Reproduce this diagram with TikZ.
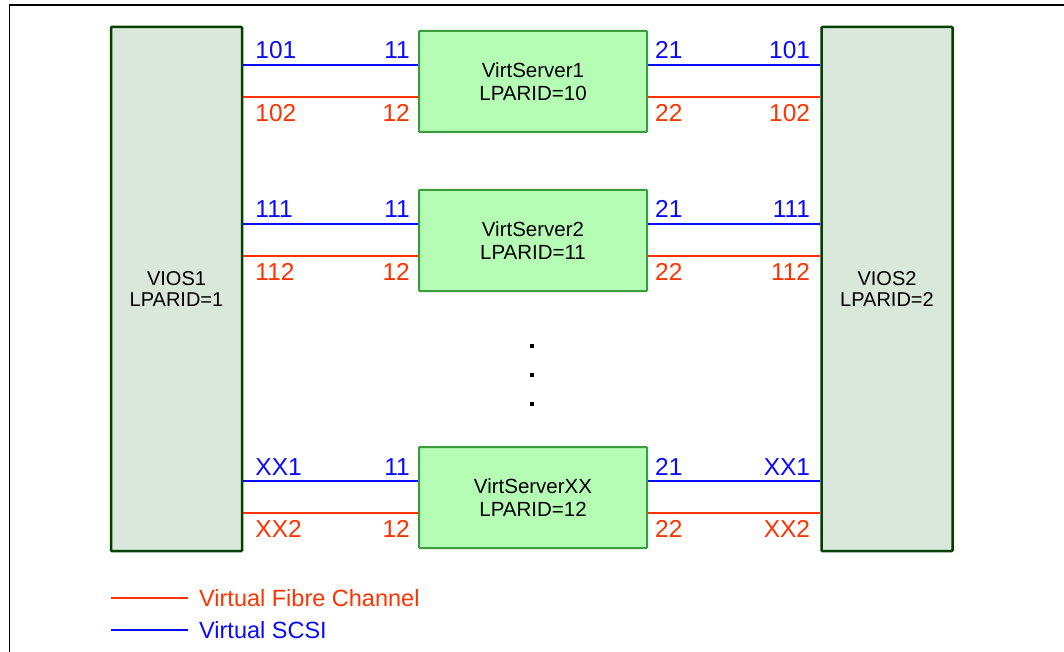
\documentclass[tikz,border=0pt]{standalone}
\usepackage{fontspec}
\setmainfont{Liberation Sans}
\usetikzlibrary{calc}
\definecolor{scsiblue}{RGB}{10,10,255}
\definecolor{fcred}{RGB}{255,51,0}
\definecolor{viosfill}{RGB}{217,232,218}
\definecolor{viosedge}{RGB}{0,64,0}
\definecolor{srvfill}{RGB}{181,253,181}
\definecolor{srvedge}{RGB}{60,155,60}
\begin{document}
\begin{tikzpicture}[x=1pt,y=-1pt,
  vios/.style={draw=viosedge,fill=viosfill,line width=2.5pt,rounded corners=0.8pt,
    minimum width=131pt,minimum height=524pt,inner sep=0pt,align=center,
    font=\fontsize{20}{21}\selectfont},
  server/.style={draw=srvedge,fill=srvfill,line width=2pt,rounded corners=0.8pt,
    minimum width=228pt,minimum height=101pt,inner sep=0pt,align=center,
    font=\fontsize{20.5}{23.5}\selectfont},
  scsi/.style={draw=scsiblue,line width=1.9pt},
  fc/.style={draw=fcred,line width=1.9pt},
  port/.style={font=\fontsize{24.5}{27}\selectfont,inner sep=0pt},
  legendtext/.style={font=\fontsize{23.5}{27}\selectfont,inner sep=0pt,anchor=west},
  dotmark/.style={fill=black,draw=none,minimum size=4pt,inner sep=0pt,rectangle},
  frame/.style={draw=black,line width=1.5pt}
]
\useasboundingbox (0,0) rectangle (1064,652);

% outer frame (top and left edges)
\coordinate (fbl) at (9.5,652);
\coordinate (ftl) at (9.5,5);
\coordinate (ftr) at (1064,5);
\draw[frame] (fbl) -- (ftl) -- (ftr);

% VIO servers
\node[vios] (v1) at (176.5,289) {VIOS1\\LPARID=1};
\node[vios] (v2) at (887,289) {VIOS2\\LPARID=2};

% client partitions with their adapters
\foreach \s/\yc/\la/\lb/\nm/\lp in {s1/81.5/101/102/VirtServer1/10,
                                     s2/240.5/111/112/VirtServer2/11,
                                     s3/497.5/XX1/XX2/VirtServerXX/12}{
  \node[server] (\s) at (533,\yc) {\nm\\LPARID=\lp};
  \coordinate (\s-bw) at ($(\s.west)+(0,-16.8)$);
  \coordinate (\s-rw) at ($(\s.west)+(0,15.2)$);
  \coordinate (\s-be) at ($(\s.east)+(0,-16.8)$);
  \coordinate (\s-re) at ($(\s.east)+(0,15.2)$);
  \draw[scsi] (v1.east |- \s-bw) -- (\s-bw);
  \draw[fc]   (v1.east |- \s-rw) -- (\s-rw);
  \draw[scsi] (\s-be) -- (\s-be -| v2.west);
  \draw[fc]   (\s-re) -- (\s-re -| v2.west);
  % adapter slot numbers
  \node[port,text=scsiblue,anchor=base west] (\s-l1) at ($(v1.east |- \s.center)+(12,-22.5)$) {\la};
  \node[port,text=fcred,anchor=base west]    (\s-l2) at ($(v1.east |- \s.center)+(12,40.2)$) {\lb};
  \node[port,text=scsiblue,anchor=base east] (\s-c1) at ($(\s.west)+(-8,-22.5)$) {11};
  \node[port,text=fcred,anchor=base east]    (\s-c2) at ($(\s.west)+(-8,40.2)$) {12};
  \node[port,text=scsiblue,anchor=base west] (\s-c3) at ($(\s.east)+(7,-22.5)$) {21};
  \node[port,text=fcred,anchor=base west]    (\s-c4) at ($(\s.east)+(7,40.2)$) {22};
  \node[port,text=scsiblue,anchor=base east] (\s-r1) at ($(v2.west |- \s.center)+(-10,-22.5)$) {\la};
  \node[port,text=fcred,anchor=base east]    (\s-r2) at ($(v2.west |- \s.center)+(-10,40.2)$) {\lb};
}

% ellipsis between partitions
\node[dotmark] (d1) at (532,346) {};
\node[dotmark] (d2) at (532,375) {};
\node[dotmark] (d3) at (532,404) {};

% legend
\coordinate (lfa) at (111,598);
\coordinate (lfb) at (188,598);
\coordinate (lsa) at (111,630);
\coordinate (lsb) at (188,630);
\draw[fc] (lfa) -- (lfb);
\draw[scsi] (lsa) -- (lsb);
\node[legendtext,text=fcred] (lft) at (199,598) {Virtual Fibre Channel};
\node[legendtext,text=scsiblue] (lst) at (199,630) {Virtual SCSI};
\end{tikzpicture}
\end{document}
